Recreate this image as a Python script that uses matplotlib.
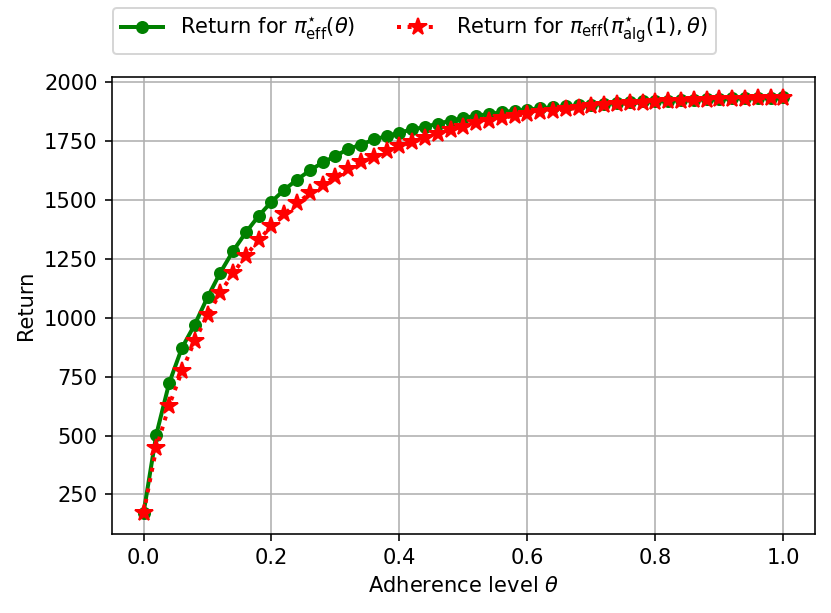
import numpy as np
import matplotlib
matplotlib.use("Agg")
import matplotlib.pyplot as plt

# adherence levels 0, 0.02, ..., 1.0
theta = [round(0.02 * i, 2) for i in range(51)]

ret_eff = [170, 504, 722, 872, 971, 1087, 1192, 1284, 1363, 1433,
           1493, 1544, 1587, 1626, 1660, 1687, 1718, 1735, 1758, 1771,
           1787, 1800, 1811, 1825, 1837, 1849, 1858, 1866, 1873, 1880,
           1884, 1890, 1894, 1898, 1902, 1906, 1910, 1913, 1916, 1919,
           1921, 1923, 1925, 1927, 1929, 1930, 1932, 1933, 1934, 1935, 1936]

ret_alg = [170, 446, 627, 773, 903, 1010, 1107, 1189, 1264, 1331,
           1389, 1441, 1486, 1529, 1566, 1600, 1631, 1660, 1684, 1708,
           1729, 1746, 1763, 1782, 1799, 1812, 1826, 1837, 1849, 1858,
           1866, 1873, 1880, 1885, 1892, 1898, 1903, 1907, 1911, 1914,
           1917, 1920, 1922, 1924, 1926, 1928, 1930, 1931, 1933, 1934, 1935]

plt.rcParams['font.size'] = 10.5

DPI = 144
fig = plt.figure(figsize=(831 / DPI, 613 / DPI), dpi=DPI)
ax = fig.add_axes([0.1342, 0.1289, 0.847, 0.746])

ax.plot(theta, ret_eff, color='green', marker='o', markersize=5.5, linewidth=2,
        label=r'Return for $\pi^{\star}_{\rm eff}(\theta)$')
ax.plot(theta, ret_alg, color='red', marker='*', markersize=9, linewidth=2,
        linestyle=':', label=r'Return for $\pi_{\rm eff}(\pi^{\star}_{\rm alg}(1),\theta)$')

ax.set_xlabel(r'Adherence level $\theta$')
ax.set_ylabel('Return')
ax.grid(True, color='#b0b0b0', linewidth=0.8)
ax.legend(loc='lower left', bbox_to_anchor=(0.002, 1.05), ncol=2,
          borderaxespad=0, columnspacing=2.0)

fig.savefig('out.png', dpi=DPI)
